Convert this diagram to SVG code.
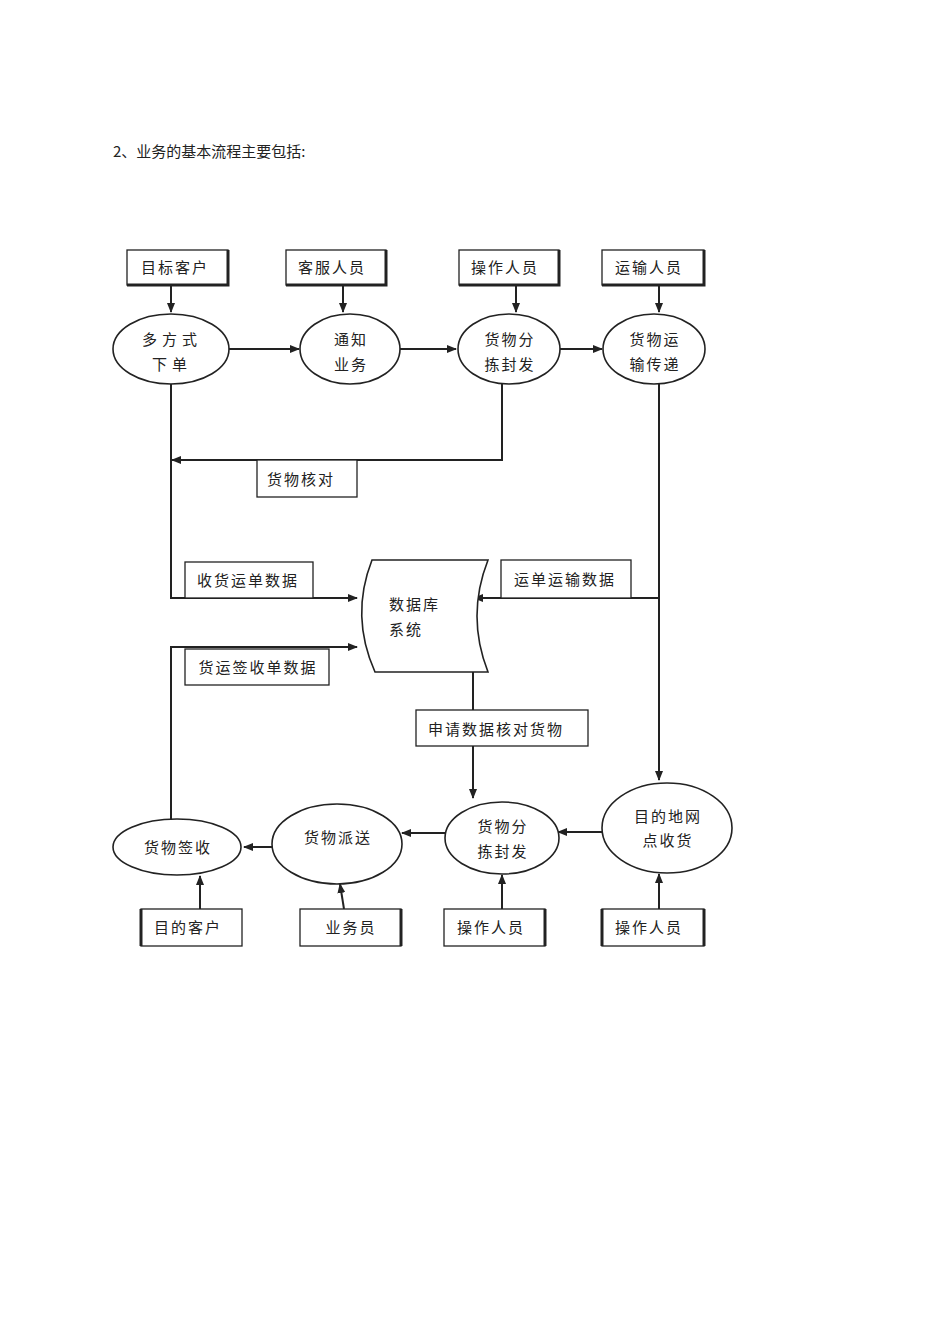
<svg xmlns="http://www.w3.org/2000/svg" width="950" height="1344" viewBox="0 0 950 1344">
<style>
text{font-family:"Noto Sans CJK SC","Liberation Serif",serif;font-size:15px;fill:#222;letter-spacing:2px}
.t{text-anchor:middle}
.b{fill:#fff;stroke:#222;stroke-width:1.3}
.sh{fill:none;stroke:#222;stroke-width:3}
.e{fill:#fff;stroke:#222;stroke-width:1.6}
.c{fill:none;stroke:#222;stroke-width:2}
</style>
<defs><marker id="a" markerWidth="10" markerHeight="8" refX="9" refY="4" orient="auto" markerUnits="userSpaceOnUse"><path d="M0,0L10,4L0,8z" fill="#222"/></marker></defs>
<rect width="950" height="1344" fill="#fff"/>
<text x="113" y="157" font-size="14" style="letter-spacing:0">2、业务的基本流程主要包括:</text>
<g id="connectors">
<path class="c" d="M171,285V312" marker-end="url(#a)"/>
<path class="c" d="M343,285V312" marker-end="url(#a)"/>
<path class="c" d="M516,285V312" marker-end="url(#a)"/>
<path class="c" d="M659,285V312" marker-end="url(#a)"/>
<path class="c" d="M229,349H299" marker-end="url(#a)"/>
<path class="c" d="M400,349H456" marker-end="url(#a)"/>
<path class="c" d="M560,349H602" marker-end="url(#a)"/>
<path class="c" d="M171,384V598H357" marker-end="url(#a)"/>
<path class="c" d="M502,384V460H172" marker-end="url(#a)"/>
<path class="c" d="M659,384V780" marker-end="url(#a)"/>
<path class="c" d="M659,598H474" marker-end="url(#a)"/>
<path class="c" d="M473,672V798" marker-end="url(#a)"/>
<path class="c" d="M603,832H558" marker-end="url(#a)"/>
<path class="c" d="M445,833H402" marker-end="url(#a)"/>
<path class="c" d="M272,847H244" marker-end="url(#a)"/>
<path class="c" d="M171,819V647H357" marker-end="url(#a)"/>
<path class="c" d="M200,909V876" marker-end="url(#a)"/>
<path class="c" d="M344,909L340,884" marker-end="url(#a)"/>
<path class="c" d="M502,909V875" marker-end="url(#a)"/>
<path class="c" d="M659,909V874" marker-end="url(#a)"/>
</g>
<g id="n1"><rect class="b" x="127" y="250" width="101" height="35"/><path class="sh" d="M228,250V285H127"/><text class="t" x="175" y="273">目标客户</text></g>
<g id="n2"><rect class="b" x="286" y="250" width="100" height="35"/><path class="sh" d="M386,250V285H286"/><text class="t" x="332" y="273">客服人员</text></g>
<g id="n3"><rect class="b" x="459" y="250" width="100" height="35"/><path class="sh" d="M559,250V285H459"/><text class="t" x="505" y="273">操作人员</text></g>
<g id="n4"><rect class="b" x="602" y="250" width="102" height="35"/><path class="sh" d="M704,250V285H602"/><text class="t" x="649" y="273">运输人员</text></g>
<g id="e1"><ellipse class="e" cx="171" cy="349" rx="58" ry="35"/><text class="t" x="172" y="345" style="letter-spacing:5px">多方式</text><text class="t" x="172" y="370" style="letter-spacing:5px">下单</text></g>
<g id="e2"><ellipse class="e" cx="350" cy="349" rx="50" ry="35"/><text class="t" x="351" y="345">通知</text><text class="t" x="351" y="370">业务</text></g>
<g id="e3"><ellipse class="e" cx="509" cy="349" rx="51" ry="35"/><text class="t" x="510" y="345">货物分</text><text class="t" x="510" y="370">拣封发</text></g>
<g id="e4"><ellipse class="e" cx="654" cy="349" rx="51" ry="35"/><text class="t" x="655" y="345">货物运</text><text class="t" x="655" y="370">输传递</text></g>
<g id="l1"><rect class="b" x="257" y="460" width="100" height="37"/><text class="t" x="301" y="485">货物核对</text></g>
<g id="l2"><rect class="b" x="185" y="562" width="128" height="36"/><text class="t" x="248" y="586">收货运单数据</text></g>
<g id="l3"><rect class="b" x="185" y="649" width="144" height="36"/><text class="t" x="258" y="673">货运签收单数据</text></g>
<g id="l4"><rect class="b" x="501" y="560" width="130" height="38"/><text class="t" x="565" y="585">运单运输数据</text></g>
<g id="l5"><rect class="b" x="416" y="710" width="172" height="36"/><text class="t" x="496" y="735">申请数据核对货物</text></g>
<g id="db"><path class="e" d="M372,560H488Q466,616 488,672H375Q350,616 372,560Z"/><text x="389" y="610">数据库</text><text x="389" y="635">系统</text></g>
<g id="e5"><ellipse class="e" cx="177" cy="847" rx="64" ry="28"/><text class="t" x="178" y="853">货物签收</text></g>
<g id="e6"><ellipse class="e" cx="337" cy="844" rx="65" ry="40"/><text class="t" x="338" y="843">货物派送</text></g>
<g id="e7"><ellipse class="e" cx="502" cy="838" rx="57" ry="36"/><text class="t" x="503" y="832">货物分</text><text class="t" x="503" y="857">拣封发</text></g>
<g id="e8"><ellipse class="e" cx="667" cy="828" rx="65" ry="45"/><text class="t" x="668" y="822">目的地网</text><text class="t" x="668" y="846">点收货</text></g>
<g id="n5"><rect class="b" x="141" y="909" width="101" height="37"/><path class="sh" d="M141,909V946"/><text class="t" x="188" y="933">目的客户</text></g>
<g id="n6"><rect class="b" x="300" y="909" width="101" height="37"/><path class="sh" d="M401,909V946"/><text class="t" x="351" y="933">业务员</text></g>
<g id="n7"><rect class="b" x="444" y="909" width="101" height="37"/><path class="sh" d="M545,909V946"/><text class="t" x="491" y="933">操作人员</text></g>
<g id="n8"><rect class="b" x="602" y="909" width="102" height="37"/><path class="sh" d="M602,909V946M704,909V946"/><text class="t" x="649" y="933">操作人员</text></g>
</svg>
